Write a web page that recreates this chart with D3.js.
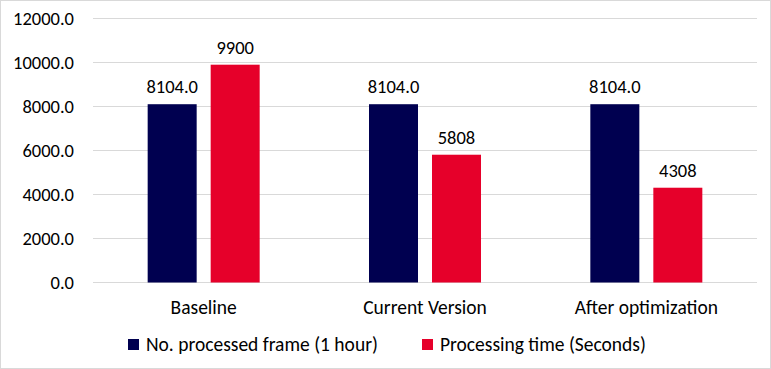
<!DOCTYPE html>
<html>
<head>
<meta charset="utf-8">
<script src="https://cdn.jsdelivr.net/npm/d3@7"></script>
<style>
  body { margin: 0; background: #fff; }
  svg text { font-family: Carlito, Lato, "Open Sans", sans-serif; fill: #000; }
</style>
</head>
<body>
<div id="graph"></div>
<script>
const categories = ['Baseline', 'Current Version', 'After optimization'];
const seriesNames = ['No. processed frame (1 hour)', 'Processing time (Seconds)'];
const frames = [8104, 8104, 8104];
const procTime = [9900, 5808, 4308];
const yTicks = [0, 2000, 4000, 6000, 8000, 10000, 12000];
const colors = ['#000050', '#e6002a'];

const W = 771, H = 369;
const margin = { top: 18.5, right: 14, bottom: 86.5, left: 93 };
const width = W - margin.left - margin.right,
    height = H - margin.top - margin.bottom;
const numSize = '18.5px', txtSize = '19.5px';

const svg = d3.select('#graph').append('svg')
    .attr('width', W)
    .attr('height', H);

svg.append('rect')
    .attr('x', 0.5).attr('y', 0.5)
    .attr('width', W - 1).attr('height', H - 1)
    .attr('fill', '#fff').attr('stroke', '#d9d9d9');

const g = svg.append('g')
    .attr('transform', 'translate(' + margin.left + ',' + margin.top + ')');

const x = d3.scaleBand().domain(categories).range([0, width]);
const y = d3.scaleLinear().domain([0, 12000]).range([height, 0]);

// gridlines
g.selectAll('.grid')
    .data(yTicks)
    .enter().append('line')
    .attr('x1', 0).attr('x2', width)
    .attr('y1', (d) => y(d)).attr('y2', (d) => y(d))
    .attr('stroke', '#d9d9d9').attr('stroke-width', 1);

// y axis labels
const yAxis = g.append('g').call(d3.axisLeft(y).tickValues(yTicks).tickFormat(d3.format('.1f')).tickSize(0).tickPadding(19));
yAxis.select('.domain').remove();
yAxis.selectAll('text').style('font-size', numSize).style('font-family', null);

// x axis labels
const xAxis = g.append('g')
    .attr('transform', 'translate(0,' + height + ')')
    .call(d3.axisBottom(x).tickSize(0).tickPadding(18));
xAxis.select('.domain').remove();
xAxis.selectAll('text').style('font-size', txtSize).style('font-family', null);

const barW = 49, gap = 14;
const data = categories.map((c, i) => ({ cat: c, vals: [frames[i], procTime[i]] }));

const groups = g.selectAll('.grp')
    .data(data)
    .enter().append('g')
    .attr('transform', (d) => 'translate(' + (x(d.cat) + x.bandwidth() / 2) + ',0)');

const bars = groups.selectAll('rect')
    .data((d) => d.vals.map((v, j) => ({ v, j })))
    .enter();

bars.append('rect')
    .attr('x', (d) => d.j === 0 ? -gap / 2 - barW : gap / 2)
    .attr('width', barW)
    .attr('y', (d) => y(d.v))
    .attr('height', (d) => height - y(d.v))
    .attr('fill', (d) => colors[d.j]);

bars.append('text')
    .attr('x', (d) => d.j === 0 ? -gap / 2 - barW / 2 : gap / 2 + barW / 2)
    .attr('y', (d) => y(d.v) - 11)
    .attr('text-anchor', 'middle')
    .style('font-size', numSize)
    .text((d) => d.j === 0 ? d3.format('.1f')(d.v) : d3.format('d')(d.v));

// legend
const legendX = [128, 422];
const legend = svg.selectAll('.legend')
    .data(seriesNames)
    .enter().append('g')
    .attr('transform', (d, i) => 'translate(' + legendX[i] + ',339)');
legend.append('rect')
    .attr('width', 11).attr('height', 11)
    .attr('fill', (d, i) => colors[i]);
legend.append('text')
    .attr('x', 18).attr('y', 5.5)
    .attr('dy', '0.35em')
    .style('font-size', txtSize)
    .text((d) => d);
</script>
</body>
</html>
